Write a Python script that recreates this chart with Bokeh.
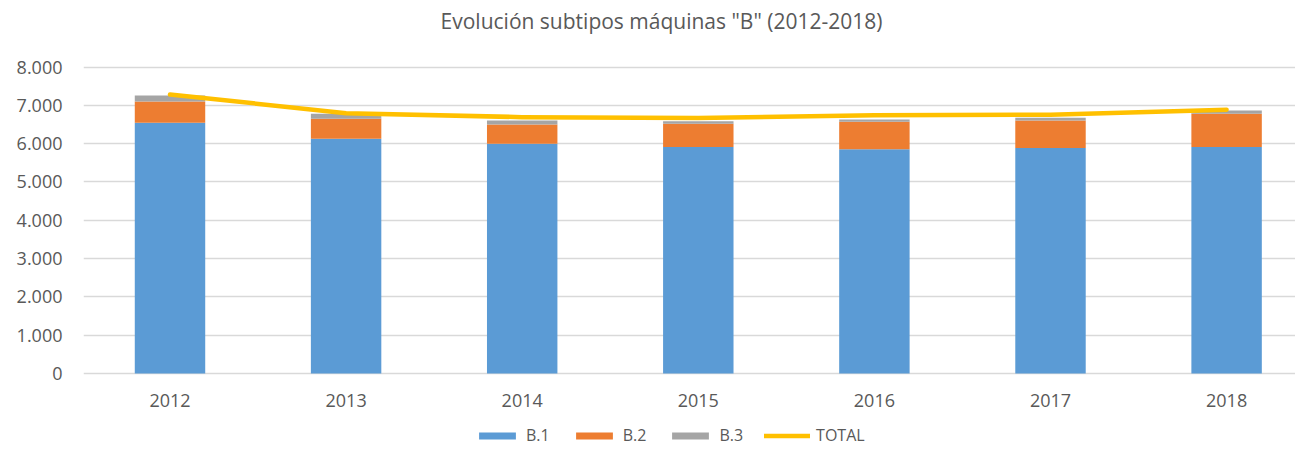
from bokeh.plotting import figure
from bokeh.models import (ColumnDataSource, Range1d, FixedTicker, Legend, LegendItem)
from bokeh.core.properties import value
from bokeh.embed import file_html
from bokeh.resources import INLINE

years = ["2012", "2013", "2014", "2015", "2016", "2017", "2018"]
b1 = [6548, 6128, 6000, 5913, 5851, 5887, 5913]
b2 = [552, 521, 500, 606, 720, 718, 867]
b3 = [157, 131, 105, 68, 60, 70, 86]
total = [7283, 6795, 6691, 6670, 6743, 6754, 6884]
y_ticks = [0, 1000, 2000, 3000, 4000, 5000, 6000, 7000, 8000]
y_tick_labels = ["0", "1.000", "2.000", "3.000", "4.000", "5.000", "6.000", "7.000", "8.000"]
title_text = 'Evolución subtipos máquinas "B" (2012-2018)'

FONT = "Open Sans"
TXT = "#595959"

W, H = 1295, 447
LEFT = 83                 # frame left edge (px)
Y0_PX, Y8000_PX = 373.0, 66.5
PPU = (Y0_PX - Y8000_PX) / 8000.0
Y_TOP = 8000 + Y8000_PX / PPU
Y_BOT = -(H - Y0_PX) / PPU
BAND = 176.1
X0_PX = 169.5
X_START = (LEFT - X0_PX) / BAND
X_END = (W - X0_PX) / BAND

idx = list(range(len(years)))
top1 = b1
top2 = [a + b for a, b in zip(b1, b2)]
top3 = [a + b for a, b in zip(top2, b3)]
src = ColumnDataSource(dict(x=idx, b1=top1, b2=top2, b3=top3,
                            bot2=top1, bot3=top2, total=total))

p = figure(width=W, height=H, output_backend="svg", toolbar_location=None,
           x_range=Range1d(X_START, X_END), y_range=Range1d(Y_BOT, Y_TOP),
           min_border_left=LEFT, min_border_right=0, min_border_top=0,
           min_border_bottom=0, x_axis_location=None)
p.outline_line_color = None
p.background_fill_color = "white"
p.border_fill_color = "white"

w = 0.4
r1 = p.vbar(x="x", top="b1", bottom=0, width=w, source=src,
            fill_color="#5B9BD5", line_color=None)
r2 = p.vbar(x="x", top="b2", bottom="bot2", width=w, source=src,
            fill_color="#ED7D31", line_color=None)
r3 = p.vbar(x="x", top="b3", bottom="bot3", width=w, source=src,
            fill_color="#A5A5A5", line_color=None)
r4 = p.line(x="x", y="total", source=src, line_color="#FFC000", line_width=4.5,
            line_cap="round", line_join="round")

# category labels under the baseline
lab_y = -(400 - Y0_PX) / PPU
p.text(x=idx, y=[lab_y] * len(idx), text=years, text_align="center",
       text_baseline="middle", text_font=value(FONT), text_font_size="18px",
       text_color=TXT)

# title
title_x = (661 - X0_PX) / BAND
title_y = Y_TOP - 20 / PPU
p.text(x=[title_x], y=[title_y], text=[title_text], text_align="center",
       text_baseline="middle", text_font=value(FONT), text_font_size="21px",
       text_color=TXT)

p.yaxis.ticker = FixedTicker(ticks=y_ticks)
p.yaxis.major_label_overrides = {t: l for t, l in zip(y_ticks, y_tick_labels)}
p.yaxis.axis_line_color = None
p.yaxis.major_tick_line_color = None
p.yaxis.minor_tick_line_color = None
p.yaxis.major_label_standoff = 15
p.yaxis.major_label_text_font = FONT
p.yaxis.major_label_text_font_size = "18px"
p.yaxis.major_label_text_color = TXT

p.xgrid.grid_line_color = None
p.ygrid.ticker = FixedTicker(ticks=y_ticks)
p.ygrid.grid_line_color = "#D9D9D9"
p.ygrid.grid_line_width = 1.5

legend = Legend(items=[LegendItem(label="B.1", renderers=[r1]),
                       LegendItem(label="B.2", renderers=[r2]),
                       LegendItem(label="B.3", renderers=[r3]),
                       LegendItem(label="TOTAL", renderers=[r4])],
                orientation="horizontal", location=(474 - LEFT, 1),
                glyph_width=46, glyph_height=9, spacing=21,
                label_standoff=6, padding=0, margin=0,
                label_text_font=FONT, label_text_font_size="16px",
                label_text_color=TXT, border_line_color=None,
                background_fill_alpha=0)
p.add_layout(legend)

open("out.html", "w").write(file_html(p, INLINE))
